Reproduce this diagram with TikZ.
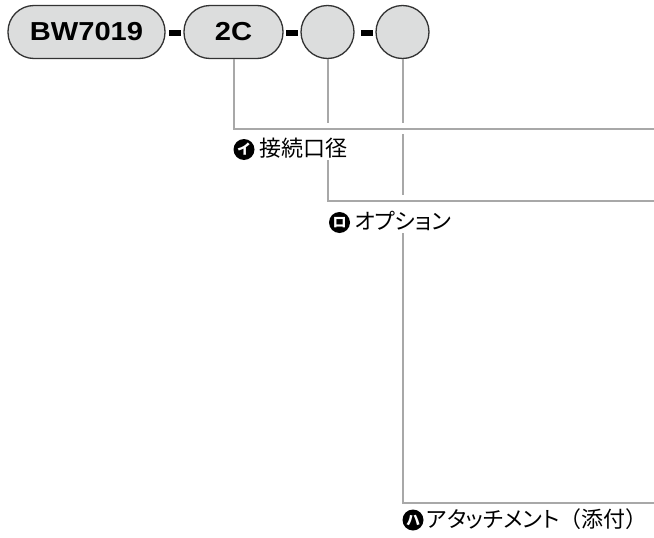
\documentclass[tikz,border=0pt]{standalone}
\usepackage{fontspec}
\setmainfont{Liberation Sans}
\newfontfamily\jp{Noto Sans CJK JP}[RawFeature=+palt]
\newfontfamily\jpfull{Noto Sans CJK JP}
\definecolor{pillfill}{HTML}{DCDDDD}
\definecolor{pillborder}{HTML}{333333}
\definecolor{linegray}{HTML}{A8A8A8}
\begin{document}
\begin{tikzpicture}[x=1pt,y=-1pt,
  pill/.style={draw=pillborder, fill=pillfill, line width=1.3pt, rounded corners=26pt,
    minimum height=53pt, inner sep=0pt, font=\fontsize{26}{26}\selectfont\bfseries},
  roundbox/.style={circle, draw=pillborder, fill=pillfill, line width=1.3pt, minimum size=53pt, inner sep=0pt},
  dashbox/.style={fill=black, minimum width=12pt, minimum height=6pt, inner sep=0pt},
  conn/.style={draw=linegray, line width=2pt},
  gapcover/.style={draw=white, line width=11pt},
  icon/.style={circle, fill=black, minimum size=21pt, inner sep=0pt, text=white,
    font=\jpfull\bfseries\fontsize{14}{14}\selectfont},
  label/.style={anchor=base west, fill=white, inner xsep=0.5pt, inner ysep=0pt,
    text height=27pt, text depth=3pt, font=\jp\fontsize{22}{22}\selectfont}
]
\useasboundingbox (0,0) rectangle (654,538);
\fill[white] (0,0) rectangle (654,538);

% code boxes
\node[pill, minimum width=157pt] (p1) at (86.5,32) {\scalebox{1.12}[1]{BW7019}};
\node[dashbox] (d1) at (175,33) {};
\node[pill, minimum width=99pt] (p2) at (233.5,32) {\scalebox{1.12}[1]{2C}};
\node[dashbox] (d2) at (292,33) {};
\node[roundbox] (p3) at (327.5,32) {};
\node[dashbox] (d3) at (367,33) {};
\node[roundbox] (p4) at (402.5,32) {};

% end coordinates at the right edge
\coordinate (e1) at (655,128.5);
\coordinate (e2) at (655,200.5);
\coordinate (e3) at (655,503);

% leader lines (drawn back to front, with gaps at crossings)
\draw[conn] (p4.south) |- (e3);
\draw[gapcover] (397,200.5) -- (409,200.5);
\draw[conn] (p3.south) |- (e2);
\draw[gapcover] (322,128.5) -- (409,128.5);
\draw[conn] (p2.south) |- (e1);

% labels
\node[icon] (i1) at (244,149.5) {イ};
\node[label] (t1) at (259,156.5) {接続口径};
\node[icon] (i2) at (339.5,222.5) {ロ};
\node[label] (t2) at (354,229.5) {オプション};
\node[icon] (i3) at (413,520) {ハ};
\node[label, text height=16pt] (t3) at (426,527) {アタッチメント{\jpfull（}添付{\jpfull）}};
\end{tikzpicture}
\end{document}
